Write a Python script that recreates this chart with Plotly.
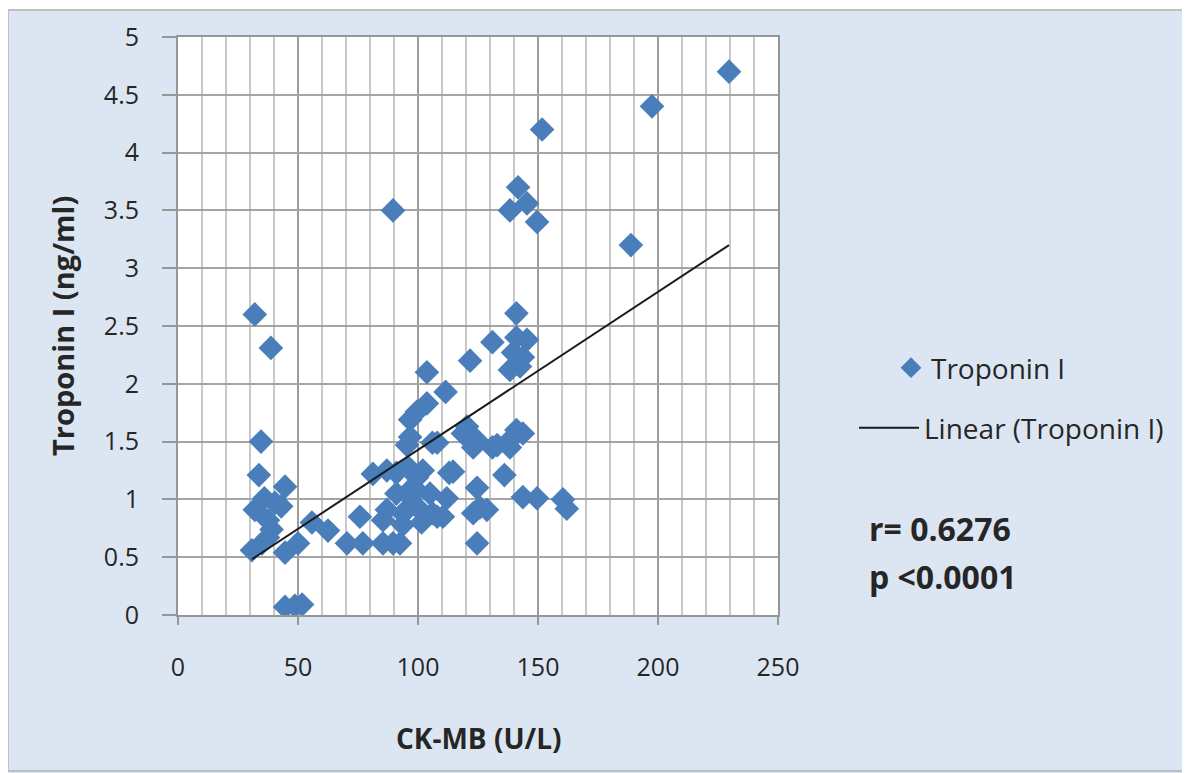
import numpy as np
import plotly.graph_objects as go

# CK-MB (U/L) values
ck_mb = [229.6, 197.5, 151.7, 188.7, 89.6, 141.7, 138.3, 145.4, 149.6,
         32.0, 38.7, 34.6, 33.7, 44.6, 32.0, 36.0, 40.4, 43.0, 37.5,
         39.0, 37.5, 30.8, 35.0, 44.6, 50.0, 55.8, 62.5, 44.6, 51.7, 48.7,
         81.2, 95.4, 108.0, 113.0, 91.0, 99.6, 96.7, 105.0, 87.0, 93.7,
         100.8, 108.0, 75.8, 70.4, 77.0, 85.4, 92.5, 85.4,
         121.7, 103.7, 111.5, 99.6, 96.7, 103.7, 96.7, 106.0, 120.4, 124.6,
         141.0, 131.0, 141.0, 145.4, 139.6, 143.7, 138.3, 142.5,
         118.7, 141.0, 139.6, 143.7, 123.0, 131.0, 138.3, 133.0,
         114.6, 136.0, 112.0, 124.6, 143.7, 149.6, 160.4, 162.0, 123.0, 128.7,
         124.6, 110.4, 87.0, 95.8, 98.0, 91.0, 95.4, 106.0, 125.8, 89.6,
         102.0, 101.5, 93.7]

# Troponin I (ng/ml) values
troponin = [4.70, 4.40, 4.20, 3.20, 3.50, 3.70, 3.50, 3.56, 3.40,
            2.60, 2.31, 1.50, 1.21, 1.11, 0.91, 1.01, 0.97, 0.94, 0.82,
            0.74, 0.67, 0.56, 0.62, 0.54, 0.62, 0.80, 0.73, 0.07, 0.09, 0.08,
            1.22, 1.47, 1.49, 1.23, 1.23, 1.19, 1.02, 1.05, 0.91, 0.88,
            0.91, 0.85, 0.85, 0.62, 0.62, 0.62, 0.62, 0.82,
            2.20, 2.10, 1.93, 1.76, 1.69, 1.83, 1.54, 1.49, 1.63, 1.51,
            2.61, 2.36, 2.40, 2.38, 2.27, 2.23, 2.12, 2.15,
            1.57, 1.60, 1.54, 1.57, 1.45, 1.45, 1.45, 1.47,
            1.24, 1.21, 1.01, 1.10, 1.02, 1.01, 1.00, 0.92, 0.88, 0.91,
            0.62, 0.85, 1.25, 1.28, 1.11, 1.05, 0.91, 0.88, 0.93, 0.62,
            1.25, 0.80, 0.78]

x_ticks = [0, 50, 100, 150, 200, 250]
y_ticks = [0, 0.5, 1, 1.5, 2, 2.5, 3, 3.5, 4, 4.5, 5]
y_tick_labels = ["0", "0.5", "1", "1.5", "2", "2.5", "3", "3.5", "4", "4.5", "5"]

stats_r = "r= 0.6276"
stats_p = "p <0.0001"

slope, intercept = np.polyfit(ck_mb, troponin, 1)
x_fit = np.array([min(ck_mb), max(ck_mb)])
y_fit = slope * x_fit + intercept

FONT = "Open Sans"
TXT = "#262626"

fig = go.Figure()
fig.add_trace(go.Scatter(
    x=ck_mb, y=troponin, mode="markers", name="Troponin I",
    marker=dict(symbol="diamond", size=19, color="#4a7ebb", line=dict(width=0)),
    legend="legend", hoverinfo="x+y"))
fig.add_trace(go.Scatter(
    x=x_fit, y=y_fit, mode="lines", name="Linear (Troponin I)",
    line=dict(color="#1a1a1a", width=2), legend="legend2"))

OFF = 8  # page body margin
W, H = 1182, 765
L, R, T, B = 178 - OFF, 778 - OFF, 37 - OFF, 615 - OFF
pw, ph = R - L, B - T

def px(page_x):
    return (page_x - OFF - L) / pw

def py(page_y):
    return (B - (page_y - OFF)) / ph

fig.update_layout(
    width=W, height=H,
    margin=dict(l=L, r=W - R, t=T, b=H - B),
    paper_bgcolor="#dce6f2",
    plot_bgcolor="white",
    font=dict(family=FONT, color=TXT, size=25),
    showlegend=True,
    legend=dict(x=px(891), y=py(368), xanchor="left", yanchor="middle",
                bgcolor="rgba(0,0,0,0)", font=dict(size=28, family=FONT, color=TXT),
                itemwidth=30),
    legend2=dict(x=px(854), y=py(428), xanchor="left", yanchor="middle",
                 bgcolor="rgba(0,0,0,0)", font=dict(size=28, family=FONT, color=TXT),
                 itemwidth=60),
    xaxis=dict(range=[0, 250], tickvals=x_ticks, ticktext=[str(v) for v in x_ticks],
               showgrid=True, gridcolor="#9c9c9c", gridwidth=2,
               minor=dict(dtick=10, tick0=0, showgrid=True, gridcolor="#c8c8c8", gridwidth=2,
                          ticks=""),
               showline=True, linecolor="#969696", linewidth=2, mirror=True,
               ticks="outside", ticklen=8, tickcolor="#969696", tickwidth=2,
               ticklabelstandoff=21, zeroline=False,
               tickfont=dict(size=25, family=FONT, color=TXT)),
    yaxis=dict(range=[0, 5], tickvals=y_ticks, ticktext=y_tick_labels,
               showgrid=True, gridcolor="#a4a4a4", gridwidth=2,
               showline=True, linecolor="#969696", linewidth=2, mirror=True,
               ticks="outside", ticklen=14, tickcolor="#969696", tickwidth=2,
               ticklabelstandoff=18, zeroline=False,
               tickfont=dict(size=25, family=FONT, color=TXT)),
    shapes=[
        dict(type="rect", xref="paper", yref="paper", x0=px(0), x1=px(1200), y0=py(-5), y1=py(10),
             fillcolor="white", line=dict(width=0), layer="below"),
        dict(type="rect", xref="paper", yref="paper", x0=px(8), x1=px(1200), y0=py(771), y1=py(10),
             fillcolor="rgba(0,0,0,0)", line=dict(width=2, color="#bfbfbf"), layer="below"),
    ],
    annotations=[
        dict(text="<b>CK-MB (U/L)</b>", xref="paper", yref="paper", x=0.5, y=py(738),
             xanchor="center", yanchor="middle", showarrow=False,
             font=dict(size=28, family=FONT, color=TXT)),
        dict(text="<b>Troponin I (ng/ml)</b>", xref="paper", yref="paper", x=px(62), y=py(326),
             xanchor="center", yanchor="middle", showarrow=False, textangle=-90,
             font=dict(size=29, family=FONT, color=TXT)),
        dict(text="<b>" + stats_r + "</b>", xref="paper", yref="paper", x=px(867), y=py(528),
             xanchor="left", yanchor="middle", showarrow=False,
             font=dict(size=32, family=FONT, color=TXT)),
        dict(text="<b>" + stats_p + "</b>", xref="paper", yref="paper", x=px(867), y=py(576),
             xanchor="left", yanchor="middle", showarrow=False,
             font=dict(size=32, family=FONT, color=TXT)),
    ],
)

fig.write_html("out.html")
